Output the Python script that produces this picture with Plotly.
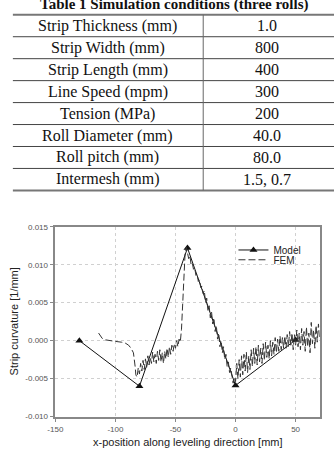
import plotly.graph_objects as go

W, H = 334, 450

# ---- Table data ----
table_title = "Table 1 Simulation conditions (three rolls)"
param_names = ["Strip Thickness (mm)", "Strip Width (mm)", "Strip Length (mm)",
               "Line Speed (mpm)", "Tension (MPa)", "Roll Diameter (mm)",
               "Roll pitch (mm)", "Intermesh (mm)"]
param_values = ["1.0", "800", "400", "300", "200", "40.0", "80.0", "1.5, 0.7"]

# ---- Chart data ----
model_x = [-130, -80, -40, 0, 50]
model_y = [0.0, -0.0060, 0.0122, -0.0059, 0.0001]

fem_x_smooth = [-114, -113, -111, -108, -105, -100, -95, -92, -89, -87, -85, -84, -83.5, -83]
fem_y_smooth = [0.0010, 0.0007, 0.0003, 0.0001, 0.0000, -0.0001, -0.0002, -0.0003,
                -0.0006, -0.0010, -0.0016, -0.0025, -0.0035, -0.0045]
fem_x_left = list(range(-82, -45))
fem_y_left = [-0.0048, -0.0036, -0.0044, -0.0030, -0.0040, -0.0026, -0.0038, -0.0024,
              -0.0035, -0.0020, -0.0032, -0.0022, -0.0030, -0.0015, -0.0028, -0.0018,
              -0.0030, -0.0014, -0.0026, -0.0012, -0.0028, -0.0016, -0.0030, -0.0014,
              -0.0024, -0.0010, -0.0022, -0.0008, -0.0018, -0.0006, -0.0014, -0.0004,
              -0.0010, 0.0000, -0.0008, 0.0002, -0.0002]
fem_x_peak = [-45, -44, -43, -42, -41]
fem_y_peak = [0.0015, 0.0050, 0.0090, 0.0115, 0.0123]
fem_x_down = list(range(-40, 0))
fem_y_down = [0.0115, 0.0108, 0.0112, 0.0100, 0.0102, 0.0094, 0.0096, 0.0086, 0.0088,
              0.0078, 0.0080, 0.0070, 0.0072, 0.0062, 0.0066, 0.0050, 0.0056, 0.0040,
              0.0046, 0.0030, 0.0038, 0.0022, 0.0030, 0.0012, 0.0020, 0.0002, 0.0010,
              -0.0008, 0.0000, -0.0016, -0.0008, -0.0025, -0.0018, -0.0034, -0.0028,
              -0.0042, -0.0036, -0.0050, -0.0056, -0.0048]
fem_x_right = list(range(0, 71))
fem_y_right = [-0.0054, -0.0030, -0.0050, -0.0025, -0.0048, -0.0020, -0.0045, -0.0018,
               -0.0040, -0.0015, -0.0042, -0.0020, -0.0038, -0.0012, -0.0034, -0.0010,
               -0.0030, -0.0008, -0.0032, -0.0006, -0.0028, -0.0010, -0.0030, -0.0004,
               -0.0026, -0.0002, -0.0022, -0.0006, -0.0024, 0.0000, -0.0020, -0.0002,
               -0.0018, 0.0004, -0.0016, 0.0002, -0.0014, 0.0006, -0.0012, 0.0004,
               -0.0010, 0.0006, -0.0010, 0.0008, -0.0008, 0.0012, -0.0006, 0.0010,
               -0.0012, 0.0008, -0.0006, 0.0014, -0.0008, 0.0010, -0.0012, 0.0016,
               -0.0006, 0.0012, -0.0014, 0.0018, -0.0008, 0.0010, -0.0016, 0.0024,
               -0.0004, 0.0014, -0.0010, 0.0020, -0.0002, 0.0022, 0.0004]

fem_x = fem_x_smooth + fem_x_left + fem_x_peak + fem_x_down + fem_x_right
fem_y = fem_y_smooth + fem_y_left + fem_y_peak + fem_y_down + fem_y_right

x_ticks = [-150, -100, -50, 0, 50]
y_ticks = [-0.010, -0.005, 0.000, 0.005, 0.010, 0.015]


def py(p):
    return 1 - p / H


def px(p):
    return p / W


fig = go.Figure()
fig.add_trace(go.Scatter(x=model_x, y=model_y, name="Model", mode="lines+markers",
                         legend="legend",
                         line=dict(color="#111", width=1),
                         marker=dict(symbol="triangle-up", size=7, color="#111")))
fig.add_trace(go.Scatter(x=fem_x, y=fem_y, name="FEM", mode="lines",
                         legend="legend2",
                         line=dict(color="#333", width=1, dash="7px,3px")))

shapes = []
annotations = []

# table lines
row_top = 11.0
row_h = 22.4
n = len(param_names)
for i in range(n + 1):
    yy = row_top + i * row_h
    thick = (i == 0 or i == n)
    shapes.append(dict(type="line", xref="paper", yref="paper", x0=px(5), x1=px(334),
                       y0=py(yy), y1=py(yy),
                       line=dict(color="#777" if thick else "#444", width=2 if thick else 1)))
shapes.append(dict(type="line", xref="paper", yref="paper", x0=px(200), x1=px(200),
                   y0=py(row_top), y1=py(row_top + n * row_h),
                   line=dict(color="#666", width=1)))

serif = "Liberation Serif, Times New Roman, serif"
annotations.append(dict(text="<b>" + table_title + "</b>", xref="paper", yref="paper",
                        x=px(171), y=py(0.5), xanchor="center", yanchor="middle",
                        showarrow=False, font=dict(family=serif, size=15, color="#111")))
for i, (nm, v) in enumerate(zip(param_names, param_values)):
    cy = row_top + (i + 0.5) * row_h
    annotations.append(dict(text=nm, xref="paper", yref="paper", x=px(102), y=py(cy),
                            xanchor="center", yanchor="middle", showarrow=False,
                            font=dict(family=serif, size=16, color="#111")))
    annotations.append(dict(text=v, xref="paper", yref="paper", x=px(265), y=py(cy),
                            xanchor="center", yanchor="middle", showarrow=False,
                            font=dict(family=serif, size=16, color="#111")))

sans = "Liberation Sans, Arial, sans-serif"
annotations.append(dict(text="Strip curvature [1/mm]", xref="paper", yref="paper",
                        x=px(6), y=py(324), xanchor="center", yanchor="middle",
                        textangle=-90, showarrow=False, font=dict(family=sans, size=11, color="#222")))
annotations.append(dict(text="x-position along leveling direction [mm]", xref="paper", yref="paper",
                        x=px(184), y=py(447), xanchor="center", yanchor="middle",
                        showarrow=False, font=dict(family=sans, size=11, color="#222")))

axis_common = dict(showline=True, linecolor="#888", linewidth=1.5, mirror=True,
                   ticks="outside", ticklen=4, tickcolor="#888", tickwidth=1,
                   showgrid=True, gridcolor="#d0d0d0", griddash="dot", gridwidth=1,
                   zeroline=False, tickfont=dict(family=sans, size=8, color="#555"))

leg_common = dict(xanchor="left", yanchor="middle", bgcolor="rgba(0,0,0,0)", itemwidth=30,
                  font=dict(family=sans, size=10, color="#222"), borderwidth=0)

fig.update_layout(
    width=W, height=H,
    margin=dict(l=0, r=0, t=0, b=0),
    paper_bgcolor="white", plot_bgcolor="white",
    showlegend=True,
    legend=dict(x=px(231), y=py(251), **leg_common),
    legend2=dict(x=px(231), y=py(261), **leg_common),
    xaxis=dict(domain=[px(48.5), px(319.3)], range=[-150, 70], tickvals=x_ticks,
               ticktext=[str(t) for t in x_ticks], **axis_common),
    yaxis=dict(domain=[py(421), py(227.3)], range=[-0.010, 0.015], tickvals=y_ticks,
               ticktext=["%.3f" % t for t in y_ticks], **axis_common),
    shapes=shapes, annotations=annotations,
)

fig.write_html("out.html")
